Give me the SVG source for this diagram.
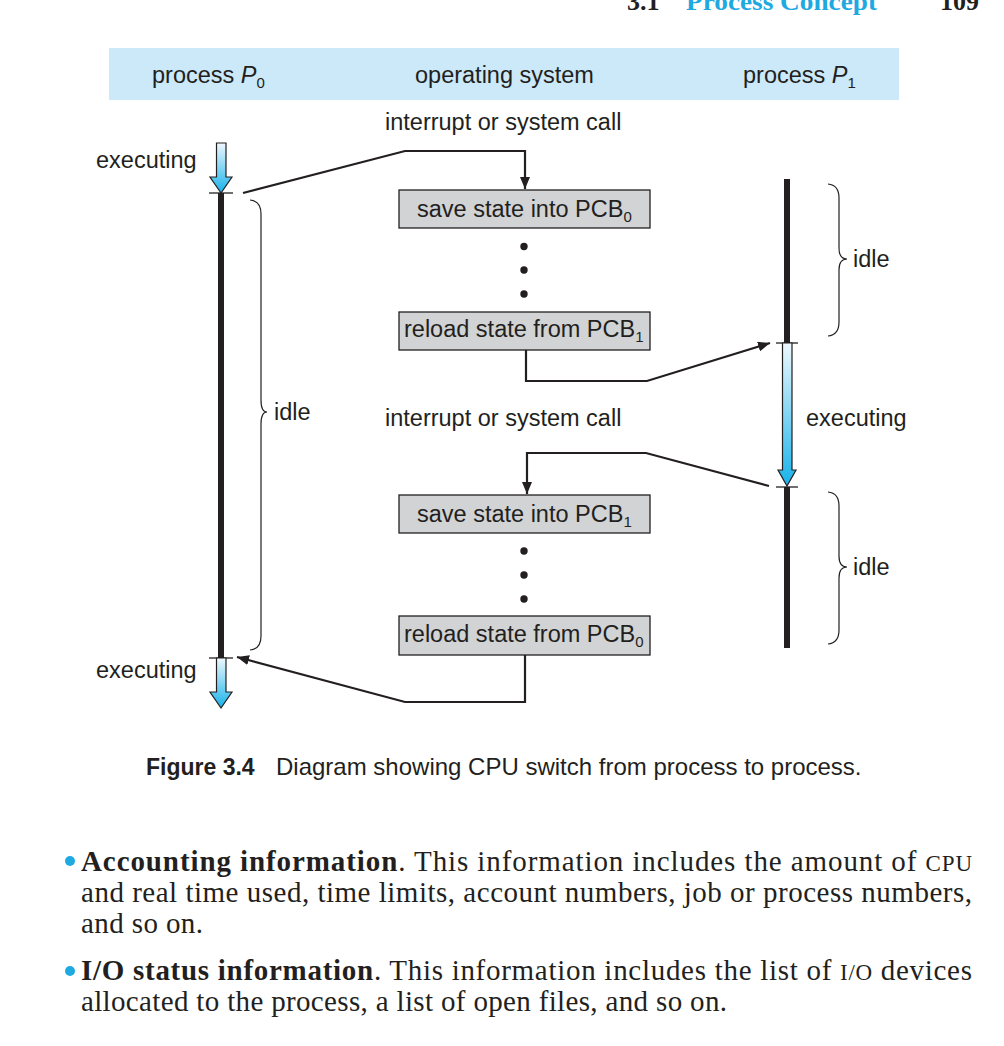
<svg xmlns="http://www.w3.org/2000/svg" width="1004" height="1046" viewBox="0 0 1004 1046">
<style>
.t{font-family:"Liberation Sans",Arial,sans-serif;font-size:23.5px;fill:#231f20}
.s{font-family:"Liberation Serif","Times New Roman",serif;font-size:29px;fill:#231f20}
.box{fill:#d1d3d4;stroke:#231f20;stroke-width:1.3}
.con{fill:none;stroke:#231f20;stroke-width:2.2}
.bar{stroke:#231f20;stroke-width:6}
.tick{stroke:#231f20;stroke-width:1.3}
.brace{fill:none;stroke:#231f20;stroke-width:1.2}
.exec{fill:url(#grad);stroke:#231f20;stroke-width:1.2}
.dot{fill:#231f20}
</style>
<defs>
<linearGradient id="grad" x1="0" y1="0" x2="0" y2="1">
<stop offset="0" stop-color="#eef8fd"/>
<stop offset="1" stop-color="#17b2ea"/>
</linearGradient>
<marker id="ah" viewBox="0 0 12 10" refX="12" refY="5" markerWidth="12" markerHeight="10" markerUnits="userSpaceOnUse" orient="auto">
<path d="M0,0 L12,5 L0,10 Z" fill="#231f20"/>
</marker>
</defs>
<rect width="1004" height="1046" fill="#ffffff"/>

<g id="page-header" font-family="'Liberation Serif','Times New Roman',serif" font-weight="bold" font-size="26">
<text x="627" y="10" fill="#231f20">3.1</text>
<text x="686" y="10" fill="#1fa9e1" textLength="191" lengthAdjust="spacingAndGlyphs">Process Concept</text>
<text x="940" y="10" fill="#231f20">109</text>
</g>

<g id="header-band">
<rect x="109" y="48" width="790" height="52" fill="#cbe9f9"/>
<text class="t" x="152" y="83">process <tspan font-style="italic">P</tspan><tspan font-size="15" dy="5">0</tspan></text>
<text class="t" x="415" y="83">operating system</text>
<text class="t" x="743" y="83">process <tspan font-style="italic">P</tspan><tspan font-size="15" dy="5">1</tspan></text>
</g>

<g id="process-p0">
<line class="bar" x1="221" y1="193" x2="221" y2="658"/>
<line class="tick" x1="209" y1="193" x2="233" y2="193"/>
<line class="tick" x1="209" y1="658" x2="233" y2="658"/>
<path class="exec" d="M216.5,143 H226 V177 H232 L221,193 L210,177 H216.5 Z"/>
<path class="exec" d="M216.5,658 H226 V692 H232 L221,708 L210,692 H216.5 Z"/>
<text class="t" x="96" y="168">executing</text>
<text class="t" x="96" y="678">executing</text>
<path class="brace" d="M250,200 Q261,201 261,214 V400 Q261,412 267,412 Q261,412 261,424 V636 Q261,649 250,650"/>
<text class="t" x="274" y="420">idle</text>
</g>

<g id="process-p1">
<line class="bar" x1="787" y1="179" x2="787" y2="343"/>
<line class="bar" x1="787" y1="487" x2="787" y2="648"/>
<line class="tick" x1="776" y1="343" x2="798" y2="343"/>
<line class="tick" x1="776" y1="487" x2="798" y2="487"/>
<path class="exec" d="M782.5,343 H792 V470 H796 L787,486 L778,470 H782.5 Z"/>
<text class="t" x="806" y="426">executing</text>
<path class="brace" d="M828,184 Q839,185 839,198 V248 Q839,259 847,259 Q839,259 839,270 V322 Q839,335 828,336"/>
<text class="t" x="853" y="267">idle</text>
<path class="brace" d="M828,492 Q839,493 839,506 V556 Q839,567 847,567 Q839,567 839,578 V630 Q839,643 828,644"/>
<text class="t" x="853" y="575">idle</text>
</g>

<g id="os-labels">
<text class="t" x="385" y="130">interrupt or system call</text>
<text class="t" x="385" y="426">interrupt or system call</text>
</g>

<g id="save-pcb0">
<rect class="box" x="399" y="190" width="251" height="38"/>
<text class="t" x="417" y="217">save state into PCB<tspan font-size="15" dy="5">0</tspan></text>
</g>
<g id="dots-1">
<circle class="dot" cx="524" cy="246.5" r="3.7"/>
<circle class="dot" cx="524" cy="270" r="3.7"/>
<circle class="dot" cx="524" cy="294" r="3.7"/>
</g>
<g id="reload-pcb1">
<rect class="box" x="399" y="312" width="251" height="38"/>
<text class="t" x="404" y="337">reload state from PCB<tspan font-size="15" dy="5">1</tspan></text>
</g>

<g id="save-pcb1">
<rect class="box" x="399" y="495" width="251" height="38"/>
<text class="t" x="417" y="522">save state into PCB<tspan font-size="15" dy="5">1</tspan></text>
</g>
<g id="dots-2">
<circle class="dot" cx="524" cy="551" r="3.7"/>
<circle class="dot" cx="524" cy="575" r="3.7"/>
<circle class="dot" cx="524" cy="599" r="3.7"/>
</g>
<g id="reload-pcb0">
<rect class="box" x="399" y="616" width="251" height="39"/>
<text class="t" x="404" y="642">reload state from PCB<tspan font-size="15" dy="5">0</tspan></text>
</g>

<g id="connectors">
<path class="con" d="M243,193 L405,151 H525 V189" marker-end="url(#ah)"/>
<path class="con" d="M526,350 V381 H647 L770,343" marker-end="url(#ah)"/>
<path class="con" d="M769,486 L646,453 H527 V494" marker-end="url(#ah)"/>
<path class="con" d="M525,655 V702 H405 L237,657" marker-end="url(#ah)"/>
</g>

<g id="caption">
<text class="t" x="146" y="775" style="font-weight:bold;font-size:23px">Figure 3.4</text>
<text class="t" x="276" y="775" style="font-size:24px">Diagram showing CPU switch from process to process.</text>
</g>

<g id="body-text">
<circle cx="70" cy="861" r="5" fill="#1fa9e1"/>
<text class="s" x="81" y="871" textLength="891" lengthAdjust="spacing"><tspan font-weight="bold">Accounting information</tspan>. This information includes the amount of <tspan font-size="23">CPU</tspan></text>
<text class="s" x="81" y="902" textLength="891" lengthAdjust="spacing">and real time used, time limits, account numbers, job or process numbers,</text>
<text class="s" x="81" y="933" textLength="122" lengthAdjust="spacing">and so on.</text>
<circle cx="70" cy="971" r="5" fill="#1fa9e1"/>
<text class="s" x="81" y="980" textLength="891" lengthAdjust="spacing"><tspan font-weight="bold">I/O status information</tspan>. This information includes the list of <tspan font-size="23">I/O</tspan> devices</text>
<text class="s" x="81" y="1011" textLength="646" lengthAdjust="spacing">allocated to the process, a list of open files, and so on.</text>
</g>
</svg>
